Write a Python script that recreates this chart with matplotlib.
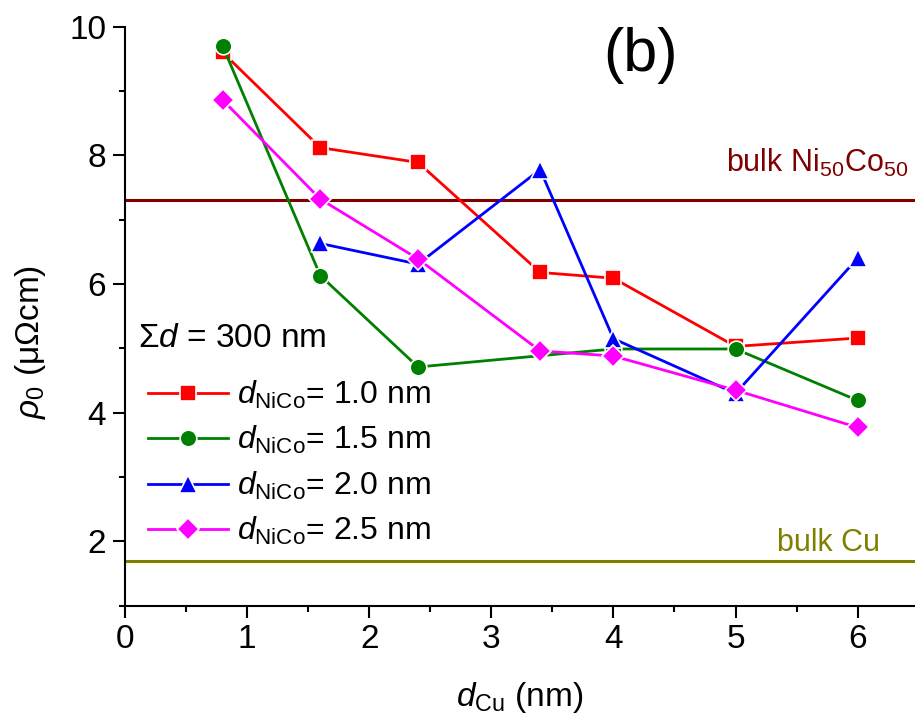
import matplotlib
matplotlib.use("Agg")
import matplotlib.pyplot as plt
from matplotlib.ticker import MultipleLocator

plt.rcParams['font.family'] = ['Liberation Sans', 'DejaVu Sans']
plt.rcParams['mathtext.fontset'] = 'custom'
plt.rcParams['mathtext.rm'] = 'Liberation Sans'
plt.rcParams['mathtext.it'] = 'Liberation Sans:italic'
plt.rcParams['mathtext.sf'] = 'Liberation Sans'

# data
x_10 = [0.8, 1.6, 2.4, 3.4, 4.0, 5.0, 6.0]
rho_10 = [9.60, 8.12, 7.89, 6.18, 6.09, 5.03, 5.16]

x_15 = [0.8, 1.6, 2.4, 4.0, 5.0, 6.0]
rho_15 = [9.70, 6.13, 4.71, 4.99, 4.99, 4.19]

x_20 = [1.6, 2.4, 3.4, 4.0, 5.0, 6.0]
rho_20 = [6.63, 6.31, 7.78, 5.15, 4.30, 6.40]

x_25 = [0.8, 1.6, 2.4, 3.4, 4.0, 5.0, 6.0]
rho_25 = [8.86, 7.32, 6.39, 4.96, 4.88, 4.35, 3.77]

bulk_nico = 7.3
bulk_cu = 1.7

labels = [r"$d_{\mathrm{NiCo}}$= 1.0 nm", r"$d_{\mathrm{NiCo}}$= 1.5 nm",
          r"$d_{\mathrm{NiCo}}$= 2.0 nm", r"$d_{\mathrm{NiCo}}$= 2.5 nm"]

fig = plt.figure(figsize=(9.15, 7.26), dpi=100)
ax = fig.add_axes([0.1366, 0.1658, 0.8634, 0.7974])

ax.axhline(bulk_nico, color='#800000', lw=2.2, zorder=1)
ax.axhline(bulk_cu, color='#808000', lw=2.2, zorder=1)

series = [(x_10, rho_10, '#ff0000', 's', 11),
          (x_15, rho_15, '#008000', 'o', 12),
          (x_20, rho_20, '#0000ff', '^', 13),
          (x_25, rho_25, '#ff00ff', 'D', 11)]
for (xs, ys, c, m, ms), lab in zip(series, labels):
    ax.plot(xs, ys, color=c, marker=m, ms=ms, lw=2.0, mec='white', mew=1.2,
            label=lab, zorder=3)

ax.text(6.42, 7.75, r"bulk Ni$_{50}$Co$_{50}$", color='#800000', fontsize=22,
        ha='right', va='baseline')
ax.text(6.18, 1.85, "bulk Cu", color='#808000', fontsize=22,
        ha='right', va='baseline')
ax.text(4.22, 9.56, "(b)", fontsize=44, ha='center', va='center')
ax.text(0.0165, 0.462, r"$\Sigma d$ = 300 nm", transform=ax.transAxes,
        fontsize=24, ha='left', va='center')

leg = ax.legend(loc='upper left', bbox_to_anchor=(0.029, 0.392), frameon=False,
                fontsize=23, handlelength=2.5, handletextpad=0.3,
                labelspacing=0.42, borderaxespad=0.0, borderpad=0.0)

ax.set_xlim(0, 6.47)
ax.set_ylim(1, 10)
ax.xaxis.set_major_locator(MultipleLocator(1))
ax.xaxis.set_minor_locator(MultipleLocator(0.5))
ax.yaxis.set_major_locator(MultipleLocator(2))
ax.yaxis.set_minor_locator(MultipleLocator(1))
ax.tick_params(which='major', direction='out', length=8.5, width=1.5,
               labelsize=24, pad=5)
ax.tick_params(which='minor', direction='out', length=4.5, width=1.5)
ax.spines['top'].set_visible(False)
ax.spines['right'].set_visible(False)
ax.spines['left'].set_linewidth(1.5)
ax.spines['bottom'].set_linewidth(1.5)

ax.set_xlabel(r"$d_{\mathrm{Cu}}$ (nm)", fontsize=24)
ax.set_ylabel(r"$\rho_{0}$ ($\mathrm{\mu\Omega}$cm)", fontsize=24)
ax.yaxis.set_label_coords(-0.098, 0.455)
ax.xaxis.set_label_coords(0.5, -0.128)

fig.savefig("out.png", dpi=100)
